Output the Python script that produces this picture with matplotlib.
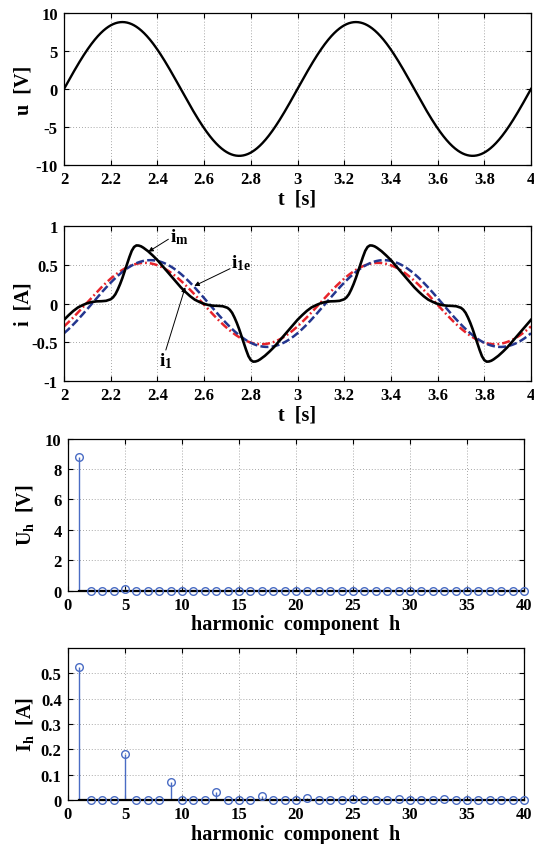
import numpy as np
import matplotlib.pyplot as plt

plt.rcParams['font.family'] = ['Liberation Serif', 'DejaVu Serif']
plt.rcParams['font.weight'] = 'bold'
plt.rcParams['axes.labelweight'] = 'bold'
plt.rcParams['axes.unicode_minus'] = False
plt.rcParams['mathtext.fontset'] = 'custom'
plt.rcParams['mathtext.rm'] = 'Liberation Serif:bold'
plt.rcParams['mathtext.it'] = 'Liberation Serif:bold'
plt.rcParams['mathtext.bf'] = 'Liberation Serif:bold'

# harmonic spectra, h = 1..40
harm = np.arange(1, 41)
U_h = [8.8, 0, 0, 0, 0.1, 0, 0, 0, 0, 0,
       0, 0, 0, 0, 0, 0, 0, 0, 0, 0,
       0, 0, 0, 0, 0, 0, 0, 0, 0, 0,
       0, 0, 0, 0, 0, 0, 0, 0, 0, 0]
I_h = [0.525, 0, 0, 0, 0.18, 0, 0, 0, 0.07, 0,
       0, 0, 0.03, 0, 0, 0, 0.015, 0, 0, 0,
       0.008, 0, 0, 0, 0.005, 0, 0, 0, 0.003, 0,
       0, 0, 0.002, 0, 0, 0, 0.001, 0, 0, 0]

# supply frequency and fundamental phase (zero crossing) times
f_sup = 1.0
u_t0 = 2.0
i1_t0 = 2.095
i1e_amp = 0.56
i1e_t0 = 2.12

# measured current, one period (2.00 .. 2.98 s)
t_im_period = [2.00, 2.02, 2.04, 2.06, 2.08, 2.10, 2.12, 2.14, 2.16, 2.18,
               2.20, 2.21, 2.22, 2.23, 2.24, 2.25, 2.26, 2.27, 2.28, 2.29,
               2.30, 2.31, 2.32, 2.33, 2.34, 2.36, 2.38, 2.40, 2.42, 2.44,
               2.46, 2.48,
               2.50, 2.52, 2.54, 2.56, 2.58, 2.60, 2.62, 2.64, 2.66, 2.68,
               2.70, 2.71, 2.72, 2.73, 2.74, 2.75, 2.76, 2.77, 2.78, 2.79,
               2.80, 2.81, 2.82, 2.83, 2.84, 2.86, 2.88, 2.90, 2.92, 2.94,
               2.96, 2.98]
i_im_period = [-0.21, -0.15, -0.095, -0.05, -0.02, 0.005, 0.02, 0.028, 0.03, 0.035,
               0.055, 0.08, 0.12, 0.18, 0.25, 0.33, 0.42, 0.51, 0.60, 0.68,
               0.73, 0.75, 0.748, 0.738, 0.72, 0.675, 0.62, 0.56, 0.49, 0.42,
               0.35, 0.28,
               0.21, 0.15, 0.095, 0.05, 0.02, -0.005, -0.02, -0.028, -0.03, -0.035,
               -0.055, -0.08, -0.12, -0.18, -0.25, -0.33, -0.42, -0.51, -0.60, -0.68,
               -0.73, -0.75, -0.748, -0.738, -0.72, -0.675, -0.62, -0.56, -0.49, -0.42,
               -0.35, -0.28]

t_ticks = [2, 2.2, 2.4, 2.6, 2.8, 3, 3.2, 3.4, 3.6, 3.8, 4]
t_ticklabels = ['2', '2.2', '2.4', '2.6', '2.8', '3', '3.2', '3.4', '3.6', '3.8', '4']
u_ticks = [-10, -5, 0, 5, 10]
i_ticks = [-1, -0.5, 0, 0.5, 1]
i_ticklabels = ['-1', '-0.5', '0', '0.5', '1']
h_ticks = [0, 5, 10, 15, 20, 25, 30, 35, 40]
Uh_ticks = [0, 2, 4, 6, 8, 10]
Ih_ticks = [0, 0.1, 0.2, 0.3, 0.4, 0.5]
Ih_ticklabels = ['0', '0.1', '0.2', '0.3', '0.4', '0.5']

t = np.linspace(2, 4, 1201)
u = U_h[0] * np.sin(2 * np.pi * f_sup * (t - u_t0))
i1 = I_h[0] * np.sin(2 * np.pi * f_sup * (t - i1_t0))
i1e = i1e_amp * np.sin(2 * np.pi * f_sup * (t - i1e_t0))
t_im = np.concatenate([t_im_period, np.array(t_im_period) + 1, [4.0]])
i_im = np.concatenate([i_im_period, i_im_period, [i_im_period[0]]])

TICK_FS = 12
LABEL_FS = 14.5
stem_col = '#4a6cc4'

fig = plt.figure(figsize=(5.34, 8.45), dpi=100)
ax1 = fig.add_axes([0.1199, 0.8036, 0.8745, 0.1799])
ax2 = fig.add_axes([0.1199, 0.5479, 0.8745, 0.1834])
ax3 = fig.add_axes([0.1273, 0.2998, 0.8539, 0.1800])
ax4 = fig.add_axes([0.1273, 0.0521, 0.8539, 0.1799])


def style(ax):
    ax.grid(True, linestyle=(0, (1, 2.5)), color='#8a8a8a', linewidth=0.6)
    ax.tick_params(direction='in', top=True, right=True, length=3.5,
                   width=0.8, labelsize=TICK_FS, pad=4.5)
    for sp in ax.spines.values():
        sp.set_linewidth(0.9)
    ax.set_axisbelow(True)


# voltage
ax1.plot(t, u, color='k', lw=1.7)
ax1.set_xlim(2, 4)
ax1.set_ylim(-10, 10)
ax1.set_xticks(t_ticks, t_ticklabels)
ax1.set_yticks(u_ticks)
ax1.set_xlabel('t  [s]', fontsize=LABEL_FS, labelpad=1)
ax1.set_ylabel('u  [V]', fontsize=LABEL_FS)
style(ax1)

# currents
ax2.plot(t, i1, color='#e8232a', lw=1.8, dashes=(3.2, 1.2, 0.7, 1.2))
ax2.plot(t, i1e, color='#24368f', lw=1.8, dashes=(3.2, 1.3))
ax2.plot(t_im, i_im, color='k', lw=1.9)
ax2.set_xlim(2, 4)
ax2.set_ylim(-1, 1)
ax2.set_xticks(t_ticks, t_ticklabels)
ax2.set_yticks(i_ticks, i_ticklabels)
ax2.set_xlabel('t  [s]', fontsize=LABEL_FS, labelpad=1)
ax2.set_ylabel('i  [A]', fontsize=LABEL_FS)
style(ax2)

arrow = dict(arrowstyle='-|>', color='k', lw=0.7, mutation_scale=7,
             shrinkA=0, shrinkB=0)
ax2.annotate('', xy=(2.361, 0.668), xytext=(2.447, 0.83), arrowprops=arrow)
ax2.text(2.452, 0.80, r'i$_{\rm m}$', fontsize=14)
ax2.annotate('', xy=(2.558, 0.227), xytext=(2.711, 0.45), arrowprops=arrow)
ax2.text(2.716, 0.47, r'i$_{\rm 1e}$', fontsize=14)
ax2.annotate('', xy=(2.519, 0.21), xytext=(2.436, -0.6), arrowprops=arrow)
ax2.text(2.405, -0.80, r'i$_{\rm 1}$', fontsize=14)

# spectra
for ax, vals, yt, ytl, ylab, ytop in [
        (ax3, U_h, Uh_ticks, None, r'U$_{\rm h}$  [V]', 10),
        (ax4, I_h, Ih_ticks, Ih_ticklabels, r'I$_{\rm h}$  [A]', 0.6)]:
    ml, sl, bl = ax.stem(harm, vals, linefmt='-', markerfmt='o', basefmt='k-')
    plt.setp(sl, color=stem_col, linewidth=1.0)
    plt.setp(ml, color=stem_col, markerfacecolor='none', markersize=5.5,
             markeredgewidth=1.0, clip_on=False, zorder=4)
    plt.setp(bl, color='k', linewidth=1.6)
    ax.set_xlim(0, 40)
    ax.set_ylim(0, ytop)
    ax.set_xticks(h_ticks)
    if ytl is None:
        ax.set_yticks(yt)
    else:
        ax.set_yticks(yt, ytl)
    ax.set_xlabel('harmonic  component  h', fontsize=LABEL_FS, labelpad=1)
    ax.set_ylabel(ylab, fontsize=LABEL_FS)
    style(ax)

for ax in (ax1, ax2):
    ax.yaxis.set_label_coords(-0.066, 0.5)
for ax in (ax3, ax4):
    ax.yaxis.set_label_coords(-0.07, 0.5)

fig.savefig('out.png', dpi=100)
